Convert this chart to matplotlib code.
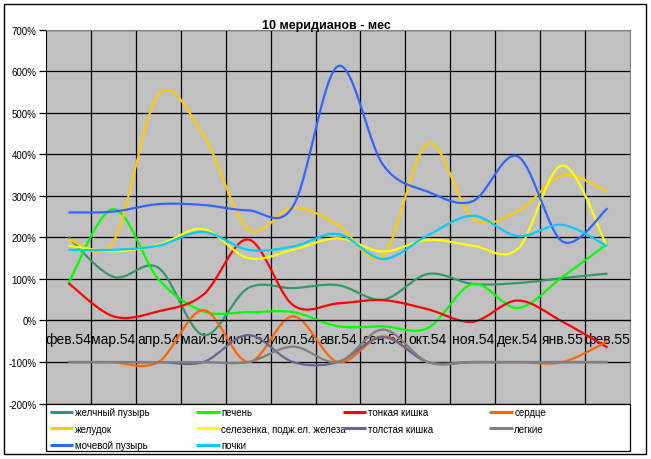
import matplotlib
matplotlib.use('Agg')
import matplotlib.pyplot as plt
import numpy as np
from matplotlib.patches import Rectangle

plt.rcParams['font.family'] = ['Liberation Sans', 'DejaVu Sans']

cats = ['фев.54', 'мар.54', 'апр.54', 'май.54', 'июн.54', 'июл.54', 'авг.54',
        'сен.54', 'окт.54', 'ноя.54', 'дек.54', 'янв.55', 'фев.55']

zhelchny = [200, 105, 127, -35, 78, 78, 85, 50, 112, 88, 90, 102, 113]
pechen = [90, 268, 100, 22, 20, 20, -14, -14, -18, 88, 30, 105, 185]
tonkaya = [90, 10, 22, 62, 195, 37, 41, 49, 27, -3, 48, -3, -65]
serdtse = [None, -100, -100, 25, -100, 10, -100, -38, -100, -100, -100, -100, -50]
zheludok = [195, 190, 543, 447, 220, 272, 230, 155, 426, 246, 263, 349, 310]
selezenka = [180, 167, 182, 220, 150, 170, 198, 166, 194, 180, 172, 373, 175]
tolstaya = [-100, -100, -100, -100, -35, -100, -100, -40, -100, -100, -100, -100, -100]
legkie = [-100, -100, -100, -100, -100, -63, -100, -22, -100, -100, -100, -100, -100]
mochevoy = [260, 262, 280, 278, 265, 275, 612, 375, 310, 287, 395, 190, 270]
pochki = [170, 170, 180, 213, 170, 178, 208, 148, 205, 252, 203, 230, 178]

names = ['желчный пузырь', 'печень', 'тонкая кишка', 'сердце', 'желудок',
         'селезенка, подж.ел. железа', 'толстая кишка', 'легкие',
         'мочевой пузырь', 'почки']
series = [zhelchny, pechen, tonkaya, serdtse, zheludok, selezenka,
          tolstaya, legkie, mochevoy, pochki]
colors = ['#339966', '#00ff00', '#ff0000', '#ff6600', '#ffcc00', '#ffff00',
          '#666699', '#808080', '#3366ff', '#00ccff']


def smooth(vals, n=30):
    # excel-like smoothed line: bezier with control points at 1/6 of neighbour diff
    pts = [(i, v) for i, v in enumerate(vals) if v is not None]
    P = np.array(pts, dtype=float)
    xs, ys = [], []
    for k in range(len(P) - 1):
        p0 = P[max(k - 1, 0)]
        p1 = P[k]
        p2 = P[k + 1]
        p3 = P[min(k + 2, len(P) - 1)]
        c1 = p1 + (p2 - p0) / 6
        c2 = p2 - (p3 - p1) / 6
        t = np.linspace(0, 1, n)[:, None]
        b = (1 - t) ** 3 * p1 + 3 * (1 - t) ** 2 * t * c1 + 3 * (1 - t) * t ** 2 * c2 + t ** 3 * p2
        xs.extend(b[:, 0])
        ys.extend(b[:, 1])
    return xs, ys


fig = plt.figure(figsize=(6.51, 4.60), dpi=100)
ax = fig.add_axes([46 / 651, 55.4 / 460, 584 / 651, 374 / 460])
ax.set_facecolor('#c0c0c0')

handles = []
for vals, name, c in zip(series, names, colors):
    xs, ys = smooth(vals)
    h, = ax.plot(xs, ys, color=c, lw=1.6, label=name, solid_capstyle='butt')
    handles.append(h)

ax.set_xlim(-0.5, len(cats) - 0.5)
ax.set_ylim(-200, 700)
ax.set_yticks(np.arange(-200, 701, 100))
ax.set_yticklabels(['%d%%' % v for v in range(-200, 701, 100)], fontsize=7)
ax.yaxis.grid(True, color='black', lw=0.9)
for xv in np.arange(0.5, len(cats) - 1, 1):
    ax.axvline(xv, color='black', lw=0.9, zorder=0.5)
ax.set_axisbelow(True)

ax.set_xticks(range(len(cats)))
ax.set_xticklabels(cats, fontsize=7)
ax.tick_params(axis='x', length=0, pad=8)
ax.tick_params(axis='y', length=5, width=0.9, pad=2)
ax.spines['bottom'].set_position(('data', 0))
ax.spines['bottom'].set_color('black')
ax.spines['left'].set_color('black')
ax.spines['top'].set_color('#808080')
ax.spines['right'].set_color('#808080')

fig.text(326 / 651, 1 - 26 / 460, '10 меридианов - мес', ha='center', va='center',
         fontsize=9, fontweight='bold')

# legend: 4 equal columns in one box, filled row by row
fig.patches.append(Rectangle((46 / 651, 8 / 460), 584 / 651, 47 / 460, transform=fig.transFigure,
                             fill=False, edgecolor='black', lw=0.9))
ncol = 4
for col in range(ncol):
    idx = list(range(col, len(names), ncol))
    leg = fig.legend([handles[i] for i in idx], [names[i] for i in idx],
                     loc='upper left', bbox_to_anchor=((47 + 146.5 * col) / 651, 1 - 405 / 460),
                     ncol=1, fontsize=7, frameon=False,
                     handlelength=2.4, handletextpad=0.15, labelspacing=0.68,
                     borderpad=0.3, borderaxespad=0)
    for ln in leg.get_lines():
        ln.set_linewidth(2.2)

fig.patches.append(Rectangle((4 / 651, 5 / 460), 642 / 651, 450 / 460, transform=fig.transFigure,
                             fill=False, edgecolor='black', lw=1))

fig.savefig('out.png', dpi=100)
